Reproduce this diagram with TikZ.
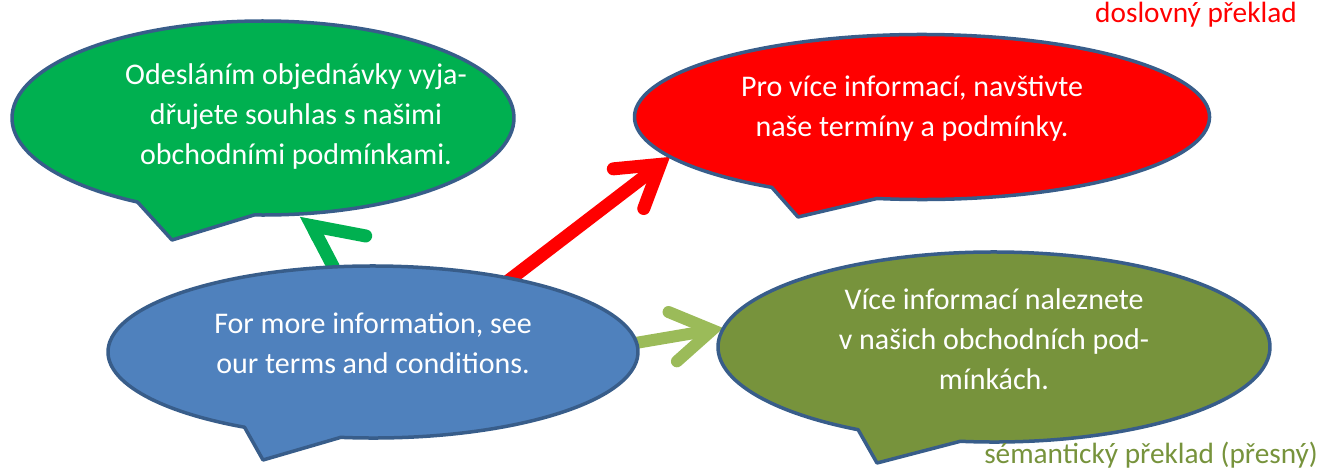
\documentclass[tikz,border=0pt]{standalone}
\usepackage{fontspec}
\setmainfont{Carlito}
\usetikzlibrary{shapes.geometric,arrows.meta}
\definecolor{cgreen}{HTML}{00B050}
\definecolor{cred}{HTML}{FF0000}
\definecolor{cblue}{HTML}{4F81BD}
\definecolor{colive}{HTML}{77933C}
\definecolor{cline}{HTML}{385D8A}
\definecolor{clight}{HTML}{9BBB59}
\begin{document}
\begin{tikzpicture}[x=1pt,y=1pt,
  shell/.style={ellipse, inner sep=0pt, draw=none},
  bubble/.style={draw=cline, line width=3.5pt, line join=round},
  txt/.style={text=white, align=center, font=\fontsize{30}{40}\selectfont},
  arr/.style={line width=13pt, line cap=round, -{Straight Barb[length=40pt, width=50pt, line cap=round, line join=miter]}},
  harp/.style={line width=13pt, line cap=round, -{Straight Barb[right, length=34pt, width=86pt, line cap=round, line join=miter]}},
  lbl/.style={font=\fontsize{29.3}{34}\selectfont, inner sep=0pt, anchor=base east}
]
\useasboundingbox (0,0) rectangle (1321,467);
\node[shell, minimum width=502pt, minimum height=194pt] (g) at (263,349) {};
\node[shell, minimum width=575pt, minimum height=165pt] (r) at (922,350) {};
\node[shell, minimum width=530pt, minimum height=172pt] (b) at (373,115) {};
\node[shell, minimum width=552pt, minimum height=190pt] (o) at (994,120) {};
% connectors
\draw[arr, cred, shorten <=-12pt] (b.28) -- (r.189.5);
\draw[arr, clight, line width=12pt] (b.2) -- (o.176.5);
\draw[harp, cgreen] (b.115) -- (g.294);
% callouts
\path[bubble, fill=cgreen] (g.center) ++(268:251 and 97) arc[start angle=268, end angle=600, x radius=251, y radius=97] -- (172,227) -- cycle;
\path[bubble, fill=cred] (r.center) ++(261:287.5 and 82.5) arc[start angle=261, end angle=598.5, x radius=287.5, y radius=82.5] -- (798,250) -- cycle;
\path[bubble, fill=cblue] (b.center) ++(263:265 and 86) arc[start angle=263, end angle=601, x radius=265, y radius=86] -- (263,7) -- cycle;
\path[bubble, fill=colive] (o.center) ++(263:276 and 95) arc[start angle=263, end angle=600.5, x radius=276, y radius=95] -- (877,4) -- cycle;
% texts
\node[txt] (gt) at (296,350) {Odesláním objednávky vyja-\\dřujete souhlas s našimi\\obchodními podmínkami.};
\node[txt] (rt) at (912,358) {Pro více informací, navštivte\\naše termíny a podmínky.};
\node[txt] (bt) at (373,124) {For more information, see\\our terms and conditions.};
\node[txt] (ot) at (994,128) {Více informací naleznete\\v našich obchodních pod-\\mínkách.};
\node[lbl, text=cred] (l1) at (1297,444) {doslovný překlad};
\node[lbl, text=colive] (l2) at (1318,4) {sémantický překlad (přesný)};
\end{tikzpicture}
\end{document}
